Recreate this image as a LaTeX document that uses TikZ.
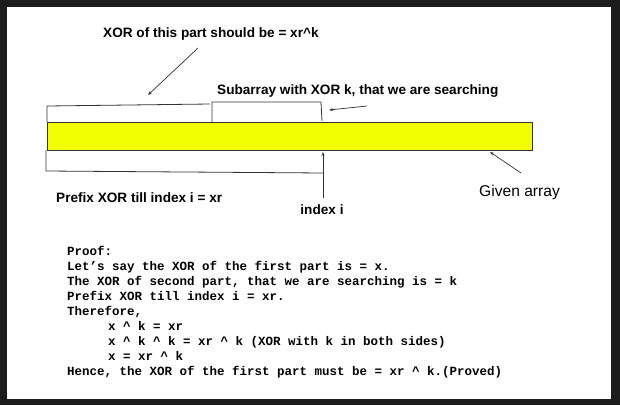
\documentclass[tikz,border=0pt]{standalone}
\usepackage{fontspec}
\setmainfont{Liberation Sans}
\newfontfamily\codefont{Liberation Mono}
\usetikzlibrary{arrows.meta}
\definecolor{bgdark}{HTML}{1C1C1C}
\definecolor{baryellow}{HTML}{F2FF00}
\definecolor{linegray}{HTML}{333333}
\tikzset{
  lbl/.style={font=\fontsize{13.6}{16}\selectfont\bfseries, inner sep=0pt, anchor=base west},
  code/.style={font=\codefont\fontsize{12.5}{15}\selectfont\bfseries, inner sep=0pt, anchor=base west},
  arraybar/.style={draw=linegray, fill=baryellow, line width=0.8pt, minimum width=485pt, minimum height=28pt, inner sep=0pt},
  brk/.style={draw=linegray, line width=0.8pt},
  ptr/.style={draw=linegray, line width=0.7pt, -{Stealth[length=4pt,width=3pt]}}
}
\begin{document}
\begin{tikzpicture}[x=1pt,y=-1pt]
\useasboundingbox (0,0) rectangle (620,405);
\fill[bgdark] (0,0) rectangle (620,405);
\fill[white] (7,7) rectangle (611,399);
% array
\node[arraybar, anchor=north west] (arr) at (47,122) {};
% labels
\node[lbl] (title) at (103,37) {XOR of this part should be = xr\textasciicircum k};
\node[lbl] (sub) at (217,94) {Subarray with XOR k, that we are searching};
\node[lbl] (pre) at (56,202) {Prefix XOR till index i = xr};
\node[lbl, anchor=base] (idx) at (322,214) {index i};
\node[font=\fontsize{15.6}{18}\selectfont, inner sep=0pt, anchor=base west] (given) at (479,196) {Given array};
% bracket coordinates
\coordinate (a1) at (47,122);
\coordinate (a2) at (47,106);
\coordinate (a3) at (210,104);
\coordinate (b1) at (212,122);
\coordinate (b2) at (212,102);
\coordinate (b3) at (321,102);
\coordinate (b4) at (322,121);
\coordinate (c1) at (46,150);
\coordinate (c2) at (46,171);
\coordinate (c3) at (324,173);
\draw[brk] (a1) -- (a2) -- (a3);
\draw[brk] (b1) -- (b2) -- (b3) -- (b4);
\draw[brk] (c1) -- (c2) -- (c3);
% arrows
\coordinate (t1) at (198,48);
\coordinate (t2) at (148,95);
\coordinate (s1) at (367,106);
\coordinate (s2) at (329,110);
\coordinate (g1) at (521,173);
\coordinate (g2) at (490,152);
\coordinate (i1) at (323,198);
\coordinate (i2) at (323,152);
\draw[ptr] (t1) -- (t2);
\draw[ptr] (s1) -- (s2);
\draw[ptr] (g1) -- (g2);
\draw[ptr] (i1) -- (i2);
% proof
\node[code] (p1) at (67,255) {Proof:};
\node[code] (p2) at (67,270) {Let’s say the XOR of the first part is = x.};
\node[code] (p3) at (67,285) {The XOR of second part, that we are searching is = k};
\node[code] (p4) at (67,300) {Prefix XOR till index i = xr.};
\node[code] (p5) at (67,315) {Therefore,};
\node[code] (p6) at (108,330) {x \textasciicircum{} k = xr};
\node[code] (p7) at (108,345) {x \textasciicircum{} k \textasciicircum{} k = xr \textasciicircum{} k (XOR with k in both sides)};
\node[code] (p8) at (108,360) {x = xr \textasciicircum{} k};
\node[code] (p9) at (67,375) {Hence, the XOR of the first part must be = xr \textasciicircum{} k.(Proved)};
\end{tikzpicture}
\end{document}
